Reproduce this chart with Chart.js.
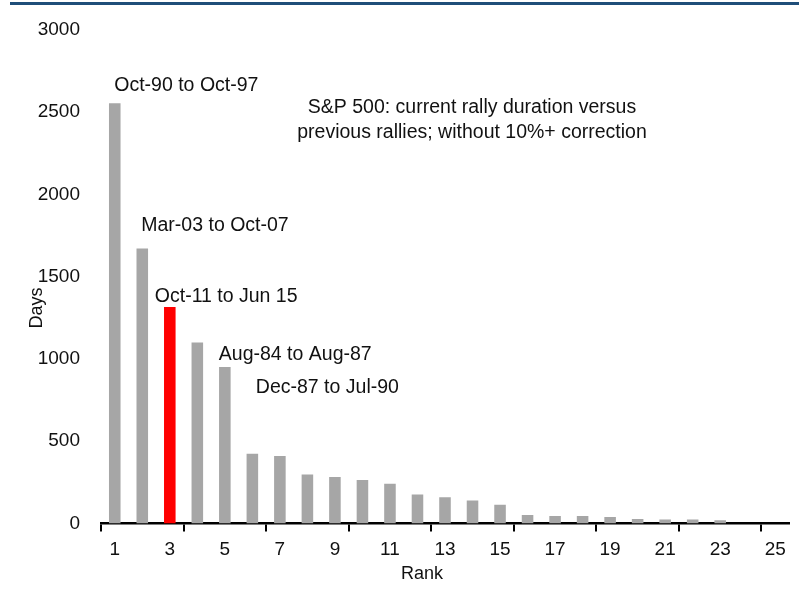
<!DOCTYPE html>
<html>
<head>
<meta charset="utf-8">
<script src="https://cdn.jsdelivr.net/npm/chart.js@4/dist/chart.umd.min.js"></script>
<style>
  body { margin: 0; background: #fff; }
  #wrap { position: relative; width: 799px; height: 592px; }
  #topRule { position: absolute; left: 10px; top: 2px; width: 789px; height: 3px; background: #1f4e79; }
</style>
</head>
<body>
<div id="wrap">
  <div id="topRule"></div>
  <canvas id="chart" width="799" height="592"></canvas>
</div>
<script>
const ranks = ['1','2','3','4','5','6','7','8','9','10','11','12','13','14','15','16','17','18','19','20','21','22','23','24','25'];
const days = [2555, 1672, 1316, 1100, 951, 424, 410, 298, 282, 264, 241, 176, 160, 140, 114, 51, 45, 45, 39, 28, 25, 25, 20, 0, 0];
const currentRank = '3';

const yTicks = [0, 500, 1000, 1500, 2000, 2500, 3000];

const rallyRanks = ['1', '2', '3', '4', '5'];
const rallyNames = ['Oct-90 to Oct-97', 'Mar-03 to Oct-07', 'Oct-11 to Jun 15', 'Aug-84 to Aug-87', 'Dec-87 to Jul-90'];
// where each name sits, relative to its bar's centre and top
const rallyOffsets = [[-0.5, -18], [-1, -23], [-15, -10], [21.5, 12], [31, 21]];

const titleLines = ['S&P 500: current rally duration versus', 'previous rallies; without 10%+ correction'];

const FONT = '"Liberation Sans", Arial, sans-serif';
const TEXT = '#111';

const rallyText = {
  id: 'rallyText',
  afterDraw(chart) {
    const { ctx, chartArea, scales: { x, y } } = chart;
    ctx.save();
    ctx.fillStyle = TEXT;
    ctx.textBaseline = 'middle';

    ctx.font = '19.5px ' + FONT;
    ctx.textAlign = 'left';
    rallyRanks.forEach((r, i) => {
      const idx = ranks.indexOf(r);
      const px = x.getPixelForValue(idx) + rallyOffsets[i][0];
      const py = y.getPixelForValue(days[idx]) + rallyOffsets[i][1];
      ctx.fillText(rallyNames[i], px, py);
    });

    ctx.textAlign = 'center';
    const cx = chartArea.left + 371;
    titleLines.forEach((line, i) => ctx.fillText(line, cx, chartArea.top + 78 + i * 25));

    // axis titles
    ctx.font = '18px ' + FONT;
    ctx.fillText('Rank', chartArea.left + 321, chartArea.bottom + 51);
    ctx.translate(chartArea.left - 64, chartArea.top + 278);
    ctx.rotate(-Math.PI / 2);
    ctx.fillText('Days', 0, 0);
    ctx.restore();
  }
};

new Chart(document.getElementById('chart'), {
  type: 'bar',
  plugins: [rallyText],
  data: {
    labels: ranks,
    datasets: [{
      data: days,
      backgroundColor: ranks.map(r => r === currentRank ? '#ff0000' : '#a6a6a6'),
      barPercentage: 0.42,
      categoryPercentage: 1,
    }]
  },
  options: {
    responsive: false,
    animation: false,
    layout: { padding: { top: 30, right: 10, left: 0, bottom: 0 } },
    scales: {
      x: {
        afterFit: (scale) => { scale.height = 68.5; },
        border: { display: true, color: '#000', width: 2.5 },
        grid: {
          offset: true,
          drawOnChartArea: false,
          drawTicks: true,
          tickLength: 8,
          lineWidth: 2,
          color: (c) => (c.index !== undefined && c.index % 3 === 0) ? '#000' : 'rgba(0,0,0,0)',
        },
        ticks: {
          autoSkip: false,
          maxRotation: 0,
          padding: 7,
          color: TEXT,
          font: { family: FONT, size: 19 },
          callback: (value, index) => index % 2 === 0 ? ranks[index] : '',
        },
      },
      y: {
        min: yTicks[0],
        max: yTicks[yTicks.length - 1],
        afterFit: (scale) => { scale.width = 101; },
        afterBuildTicks: (scale) => { scale.ticks = yTicks.map(v => ({ value: v })); },
        border: { display: false },
        grid: { display: false },
        ticks: {
          padding: 13,
          color: TEXT,
          font: { family: FONT, size: 19 },
          callback: (value) => String(value),
        },
      },
    },
    plugins: {
      legend: { display: false },
      tooltip: { enabled: false },
    },
  },
});
</script>
</body>
</html>
